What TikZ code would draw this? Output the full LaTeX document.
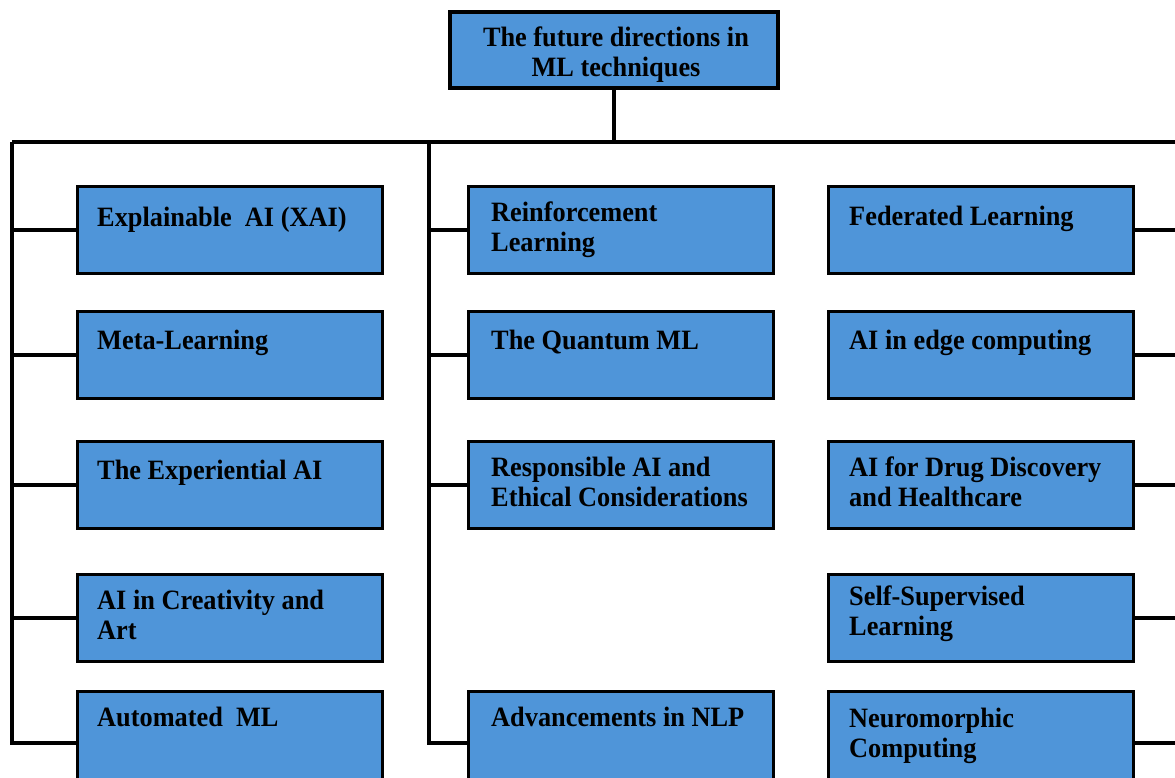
\documentclass[tikz,border=0pt]{standalone}
\usepackage{fontspec}
\setmainfont{Liberation Serif}[FakeStretch=0.94]
\usetikzlibrary{calc}

\definecolor{boxblue}{RGB}{79,149,217}
\tikzset{every picture/.style={line width=0.75pt}}
\tikzset{
  catbox/.style={draw=black, line width=2.4pt, fill=boxblue, minimum width=229pt, minimum height=65pt, inner sep=0pt},
  lastbox/.style={catbox, minimum height=77pt},
  headbox/.style={catbox, minimum width=246pt, minimum height=57pt},
  headtext/.style={inner sep=0pt, align=center, font=\fontsize{21}{22.5}\selectfont\bfseries},
  boxtext/.style={anchor=base west, inner sep=0pt, align=left, font=\fontsize{21}{22.5}\selectfont\bfseries},
  link/.style={draw=black, line width=2.3pt, line join=miter},
}

\begin{document}
\begin{tikzpicture}[x=0.75pt,y=0.75pt,yscale=-1,xscale=1]
\useasboundingbox (0,0) rectangle (1175,778);
\clip (0,0) rectangle (1175,778);

% Head
\node [headbox] (head) at (614,50) {};
\node [headtext] (head-t) at ($(head.center)+(2,5)$) {The future directions in\\ML techniques};

% Left column
\node [catbox] (xai) at (230,230) {};
\node [catbox] (meta) at (230,355) {};
\node [catbox] (expai) at (230,485) {};
\node [catbox] (creat) at (230,618) {};
\node [lastbox] (automl) at (230,743) {};
% Middle column
\node [catbox] (rl) at (621,230) {};
\node [catbox] (qml) at (621,355) {};
\node [catbox] (resp) at (621,485) {};
\node [lastbox] (nlp) at (621,743) {};
% Right column
\node [catbox] (fed) at (981,230) {};
\node [catbox] (edge) at (981,355) {};
\node [catbox] (drug) at (981,485) {};
\node [catbox] (ssl) at (981,618) {};
\node [lastbox] (neuro) at (981,743) {};

% Text Node (base of the last line)
\node [boxtext] (xai-t) at ($(xai.north west)+(21,41)$) {Explainable\ \ AI (XAI)};
\node [boxtext] (meta-t) at ($(meta.north west)+(21,39)$) {Meta-Learning};
\node [boxtext] (expai-t) at ($(expai.north west)+(21,39)$) {The Experiential AI};
\node [boxtext] (creat-t) at ($(creat.north west)+(21,66)$) {AI in Creativity and\\Art};
\node [boxtext] (automl-t) at ($(automl.north west)+(21,36)$) {Automated\ \ ML};
\node [boxtext] (rl-t) at ($(rl.north west)+(24,66)$) {Reinforcement\\Learning};
\node [boxtext] (qml-t) at ($(qml.north west)+(24,39)$) {The Quantum ML};
\node [boxtext] (resp-t) at ($(resp.north west)+(24,66)$) {Responsible AI and\\Ethical Considerations};
\node [boxtext] (nlp-t) at ($(nlp.north west)+(24,36)$) {Advancements in NLP};
\node [boxtext] (fed-t) at ($(fed.north west)+(22,40)$) {Federated Learning};
\node [boxtext] (edge-t) at ($(edge.north west)+(22,39)$) {AI in edge computing};
\node [boxtext] (drug-t) at ($(drug.north west)+(22,66)$) {AI for Drug Discovery\\and Healthcare};
\node [boxtext] (ssl-t) at ($(ssl.north west)+(22,62)$) {Self-Supervised\\Learning};
\node [boxtext] (neuro-t) at ($(neuro.north west)+(22,67)$) {Neuromorphic\\Computing};

% Trunks
\coordinate (ltop) at (12,142);
\coordinate (mtop) at (429,142);
\coordinate (rend) at (1175,142);
\draw [link] (head.south) |- (ltop);
\draw [link] (head.south) |- (rend);
\draw [link] (ltop) |- (automl.west);
\draw [link] (mtop) |- (nlp.west);

% Branches
\foreach \n in {xai,meta,expai,creat}
  \draw [link] (ltop |- \n.west) -- (\n.west);
\foreach \n in {rl,qml,resp}
  \draw [link] (mtop |- \n.west) -- (\n.west);
\foreach \n in {fed,edge,drug,ssl,neuro}
  \draw [link] (\n.east) -- (\n.east -| rend);

\end{tikzpicture}
\end{document}
